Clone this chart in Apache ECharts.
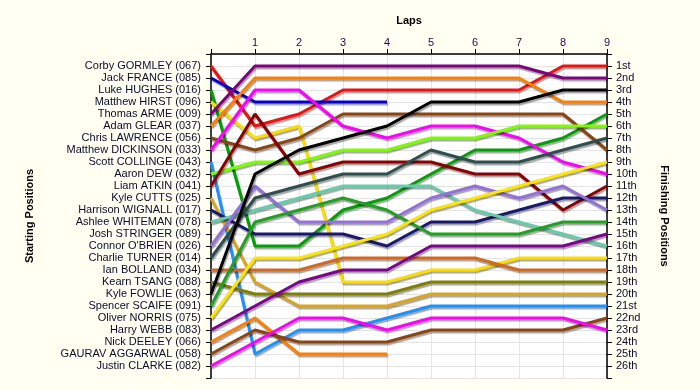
<!DOCTYPE html>
<html><head><meta charset="utf-8">
<script src="https://cdn.jsdelivr.net/npm/echarts@6/dist/echarts.min.js"></script>
<style>html,body{margin:0;padding:0;background:#FFFFF2;}#c{width:700px;height:390px;}</style>
</head><body><div id="c"></div>
<script>
// Laps (x axis) and their labels
const laps = [0, 1, 2, 3, 4, 5, 6, 7, 8, 9];
const lapLabels = ['', '1', '2', '3', '4', '5', '6', '7', '8', '9'];

// Starting grid (left axis labels)
const starters = [
  'Corby GORMLEY (067)', 'Jack FRANCE (085)', 'Luke HUGHES (016)', 'Matthew HIRST (096)',
  'Thomas ARME (009)', 'Adam GLEAR (037)', 'Chris LAWRENCE (056)', 'Matthew DICKINSON (033)',
  'Scott COLLINGE (043)', 'Aaron DEW (032)', 'Liam ATKIN (041)', 'Kyle CUTTS (025)',
  'Harrison WIGNALL (017)', 'Ashlee WHITEMAN (078)', 'Josh STRINGER (089)', "Connor O'BRIEN (026)",
  'Charlie TURNER (014)', 'Ian BOLLAND (034)', 'Kearn TSANG (088)', 'Kyle FOWLIE (063)',
  'Spencer SCAIFE (091)', 'Oliver NORRIS (075)', 'Harry WEBB (083)', 'Nick DEELEY (066)',
  'GAURAV AGGARWAL (058)', 'Justin CLARKE (082)'
];

// Finishing positions (right axis labels)
const finishLabels = ['1st','2nd','3rd','4th','5th','6th','7th','8th','9th','10th','11th','12th','13th',
  '14th','15th','16th','17th','18th','19th','20th','21st','22nd','23rd','24th','25th','26th'];

// Position of each driver at lap 0..9
const corby    = [1, 6, 5, 3, 3, 3, 3, 3, 1, 1];
const jack     = [2, 4, 4, 4, 4];
const luke     = [3, 16, 16, 13, 12, 10, 8, 8, 7, 5];
const mhirst   = [4, 7, 6, 19, 19, 18, 18, 17, 17, 17];
const thomas   = [5, 1, 1, 1, 1, 1, 1, 1, 2, 2];
const adam     = [6, 2, 2, 2, 2, 2, 2, 2, 4, 4];
const chris    = [7, 8, 7, 5, 5, 5, 5, 5, 5, 8];
const mdick    = [8, 3, 3, 6, 7, 6, 6, 7, 9, 10];
const scott    = [9, 25, 23, 23, 22, 21, 21, 21, 21, 21];
const aaron    = [10, 9, 9, 8, 8, 7, 7, 6, 6, 6];
const liam     = [11, 5, 10, 9, 9, 9, 10, 10, 13, 11];
const kylec    = [12, 19, 21, 21, 21, 20, 20, 20, 20, 20];
const harrison = [13, 15, 15, 15, 16, 14, 14, 13, 12, 12];
const ashlee   = [14, 13, 12, 11, 11, 11, 13, 14, 15, 16];
const josh     = [];
const connor   = [16, 11, 14, 14, 14, 12, 11, 12, 11, 13];
const charlie  = [17, 12, 11, 10, 10, 8, 9, 9, 8, 7];
const ian      = [18, 18, 18, 17, 17, 17, 17, 18, 18, 18];
const kearn    = [19, 20, 20, 20, 20, 19, 19, 19, 19, 19];
const kylef    = [20, 10, 8, 7, 6, 4, 4, 4, 3, 3];
const spencer  = [21, 14, 13, 12, 13, 15, 15, 15, 14, 14];
const oliver   = [22, 17, 17, 16, 15, 13, 12, 11, 10, 9];
const harry    = [23, 21, 19, 18, 18, 16, 16, 16, 16, 15];
const nick     = [24, 22, 25, 25, 25];
const gaurav   = [25, 23, 24, 24, 24, 23, 23, 23, 23, 22];
const justin   = [26, 24, 22, 22, 23, 22, 22, 22, 22, 23];

const positions = [corby, jack, luke, mhirst, thomas, adam, chris, mdick, scott, aaron, liam, kylec,
  harrison, ashlee, josh, connor, charlie, ian, kearn, kylef, spencer, oliver, harry, nick, gaurav, justin];

// Line colours (style)
const lineColors = ['#ee1111', '#0000cd', '#00a000', '#ffdd00', '#800080', '#ff8000', '#8b4513', '#ff00ff',
  '#1e90ff', '#7cfc00', '#8b0000', '#daa520', '#191970', '#66cdaa', '#999999', '#9370db',
  '#2f4f4f', '#d2691e', '#808000', '#000000', '#22a022', '#ffe600', '#800090', '#ff8000',
  '#8b4513', '#ff00ff'];

const series = positions.map((arr, k) => ({
  name: starters[k],
  type: 'line',
  showSymbol: false,
  silent: true,
  data: arr.map((p, i) => [laps[i], p]),
  lineStyle: {
    color: lineColors[k], width: 3,
    shadowColor: 'rgba(0,0,0,0.35)', shadowBlur: 1, shadowOffsetX: 1, shadowOffsetY: 2
  }
}));

const labelColor = '#0b0b2b';
const chart = echarts.init(document.getElementById('c'), null, {renderer: 'canvas'});
chart.setOption({
  animation: false,
  backgroundColor: '#FFFFF2',
  grid: {left: 211, right: 93, top: 54, height: 324, show: true, backgroundColor: '#ffffff', borderWidth: 0},
  xAxis: {
    type: 'value', position: 'top', min: 0, max: 9, interval: 1,
    name: 'Laps', nameLocation: 'middle', nameGap: 28,
    nameTextStyle: {fontFamily: 'Liberation Sans, Arial', fontSize: 11, fontWeight: 'bold', color: '#000'},
    axisLine: {show: true, onZero: false, lineStyle: {color: '#000', width: 1.5}},
    axisTick: {show: true, length: 5, lineStyle: {color: '#000'}},
    axisLabel: {margin: 6, fontFamily: 'Liberation Sans, Arial', fontSize: 11, color: '#330044',
      formatter: v => lapLabels[v] || ''},
    splitLine: {show: true, lineStyle: {color: '#e4e4e4', width: 1}}
  },
  yAxis: [{
    type: 'value', position: 'left', min: 0, max: 27, interval: 1, inverse: true,
    name: 'Starting Positions', nameLocation: 'middle', nameGap: 176, nameRotate: 90,
    nameTextStyle: {fontFamily: 'Liberation Sans, Arial', fontSize: 11, fontWeight: 'bold', color: '#000'},
    axisLine: {show: true, onZero: false, lineStyle: {color: '#000', width: 1.5}},
    axisTick: {show: true, length: 5, lineStyle: {color: '#000'}},
    axisLabel: {margin: 10, fontFamily: 'Liberation Sans, Arial', fontSize: 11, color: labelColor,
      formatter: v => starters[v - 1] || ''},
    splitLine: {show: true, lineStyle: {color: '#e4e4e4', width: 1}}
  }, {
    type: 'value', position: 'right', min: 0, max: 27, interval: 1, inverse: true,
    name: 'Finishing Positions', nameLocation: 'middle', nameGap: 52, nameRotate: -90,
    nameTextStyle: {fontFamily: 'Liberation Sans, Arial', fontSize: 11, fontWeight: 'bold', color: '#000'},
    axisLine: {show: true, onZero: false, lineStyle: {color: '#000', width: 1.5}},
    axisTick: {show: true, length: 5, lineStyle: {color: '#000'}},
    axisLabel: {margin: 9, fontFamily: 'Liberation Sans, Arial', fontSize: 11, color: labelColor,
      formatter: v => finishLabels[v - 1] || ''},
    splitLine: {show: false}
  }],
  series: series
});
</script></body></html>
